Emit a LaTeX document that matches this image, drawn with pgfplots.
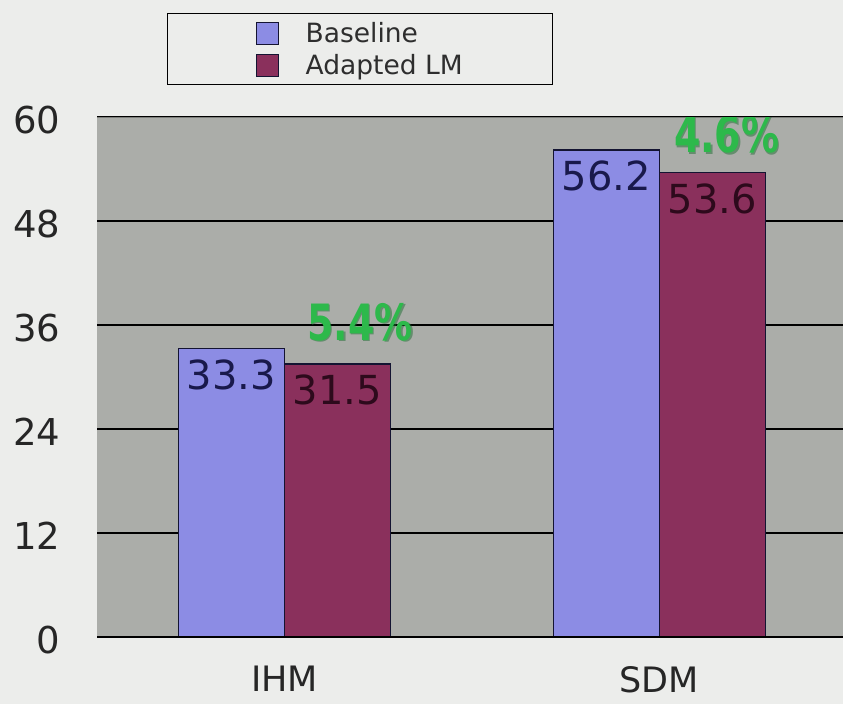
\documentclass[border=0pt]{standalone}
\usepackage{fontspec}
\setmainfont{DejaVu Sans}
\usepackage{graphicx}
\usepackage{pgfplots}
\pgfplotsset{compat=1.18}
\definecolor{bgc}{RGB}{236,237,235}
\definecolor{plotbg}{RGB}{171,173,169}
\definecolor{basec}{RGB}{140,140,228}
\definecolor{adaptc}{RGB}{138,48,92}
\definecolor{edgec}{RGB}{20,20,50}
\definecolor{gr}{RGB}{45,185,75}
\definecolor{grd}{RGB}{30,110,50}
\definecolor{topline}{RGB}{125,127,123}
\definecolor{bluetxt}{RGB}{25,25,75}
\definecolor{redtxt}{RGB}{45,10,28}
\begin{document}
\begin{tikzpicture}
\path[use as bounding box] (0,0) rectangle (843pt,704pt);
\fill[bgc] (0,0) rectangle (843pt,704pt);
\begin{axis}[
  at={(97pt,67pt)}, anchor=south west,
  scale only axis, width=746pt, height=520pt,
  xmin=-0.5, xmax=1.49, ymin=0, ymax=60,
  xtick={0,1}, xticklabels={IHM,SDM},
  ytick={0,12,...,60},
  major tick length=0pt,
  axis line style={draw=none},
  axis background/.style={fill=plotbg},
  ymajorgrids, major grid style={black, line width=1.5pt},
  /pgf/number format/assume math mode=true,
  yticklabel style={font=\fontsize{37}{40}\selectfont, text=black!85, xshift=-33pt, yshift=-3pt},
  xticklabel style={font=\fontsize{35}{40}\selectfont, text=black!85, inner sep=0pt, text depth=0pt, anchor=north, yshift=-29pt},
  ybar=0pt, bar width=106pt,
  legend style={at={(0.0938,1.2)}, anchor=north west, draw=black, line width=1.2pt,
    fill=bgc, inner xsep=88pt, inner ysep=7pt, row sep=6pt,
    font=\fontsize{26.5}{30}\selectfont, text=black!82, cells={anchor=west}},
]
\addlegendimage{legend image code/.code={\draw[fill=basec,draw=edgec,line width=1pt] (0pt,-11pt) rectangle (22pt,11pt); \path (47pt,0pt);}}
\addlegendentry{Baseline}
\addlegendimage{legend image code/.code={\draw[fill=adaptc,draw=edgec,line width=1pt] (0pt,-11pt) rectangle (22pt,11pt); \path (47pt,0pt);}}
\addlegendentry{Adapted LM}

\addplot[forget plot, bar shift=-53pt, fill=basec, draw=edgec, line width=1.4pt,
  nodes near coords, point meta=explicit symbolic,
  every node near coord/.append style={anchor=north, yshift=-7pt, text=bluetxt, font=\fontsize{40}{44}\selectfont}]
  coordinates {(0,33.3) [33.3] (1,56.2) [56.2]};
\addplot[forget plot, bar shift=53pt, fill=adaptc, draw=edgec, line width=1.4pt,
  nodes near coords, point meta=explicit symbolic,
  every node near coord/.append style={anchor=north, yshift=-7pt, text=redtxt, font=\fontsize{40}{44}\selectfont}]
  coordinates {(0,31.5) [31.5] (1,53.6) [53.6]};

\draw[topline, line width=2.5pt] (rel axis cs:0,1) -- (rel axis cs:1,1);
\draw[black, line width=2pt] (rel axis cs:0,0) -- (rel axis cs:1,0);

\node[text=grd, opacity=0.5, font=\fontsize{50}{56}\selectfont\bfseries, xshift=1.5pt, yshift=-1.5pt] at (axis cs:0.2015,36.35) {\scalebox{0.76}[1]{5.4\%}};
\node[text=gr, font=\fontsize{50}{56}\selectfont\bfseries] at (axis cs:0.2015,36.35) {\scalebox{0.76}[1]{5.4\%}};
\node[text=grd, opacity=0.5, font=\fontsize{50}{56}\selectfont\bfseries, xshift=1.5pt, yshift=-1.5pt] at (axis cs:1.18,58.0) {\scalebox{0.76}[1]{4.6\%}};
\node[text=gr, font=\fontsize{50}{56}\selectfont\bfseries] at (axis cs:1.18,58.0) {\scalebox{0.76}[1]{4.6\%}};
\end{axis}
\end{tikzpicture}
\end{document}
